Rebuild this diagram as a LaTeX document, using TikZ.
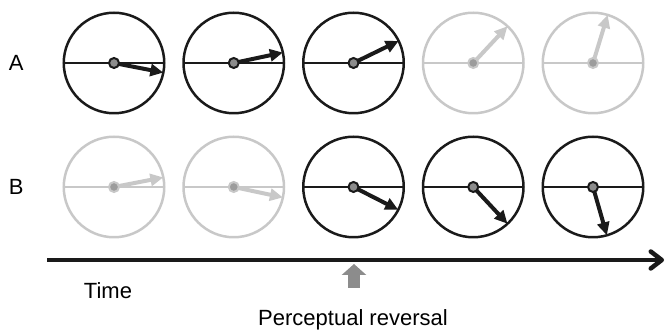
\documentclass[tikz,border=0pt]{standalone}
\usepackage{fontspec}
\setmainfont{Liberation Sans}
\usepackage{tikz}
\usetikzlibrary{positioning, arrows.meta}
\usepackage{xcolor}
\definecolor{fadegray}{HTML}{C8C8C8}
\definecolor{hubgray}{HTML}{8C8C8C}
\definecolor{hubfade}{HTML}{9C9C9C}
\definecolor{dialblack}{HTML}{1A1A1A}

\tikzset{
	dial/.style={circle, draw=dialblack, line width=2.5pt,
		minimum size=100.5pt, inner sep=0pt, outer sep=0pt},
	hub/.style={circle, draw=dialblack, line width=2pt, fill=hubgray,
		minimum size=10pt, inner sep=0pt},
	hand/.style={line width=4pt, -{Triangle[length=13pt,width=12pt]}},
	label/.style={inner sep=0pt}
}

\begin{document}
\begin{tikzpicture}[x=1pt, y=1pt, font=\fontsize{22}{26}\selectfont]
	\useasboundingbox (0,0) rectangle (667,331);
    % Add the dials
		\node[dial] (a1) at (114,268) {};
		\node[dial,
			right=19.25pt of a1
			] (a2) {};
		\node[dial,
			right=19.25pt of a2
			] (a3) {};
		\node[dial,
			right=19.25pt of a3,
			draw=fadegray
			] (a4) {};
		\node[dial,
			right=19.25pt of a4,
			draw=fadegray
			] (a5) {};
		\node[dial,
			below=23.5pt of a1,
			draw=fadegray
			] (b1) {};
		\node[dial,
			below=23.5pt of a2,
			draw=fadegray
			] (b2) {};
		\node[dial,
			below=23.5pt of a3
			] (b3) {};
		\node[dial,
			below=23.5pt of a4
			] (b4) {};
		\node[dial,
			below=23.5pt of a5
			] (b5) {};
		\node[label] (labA) [left=40pt of a1] {A};
		\node[label] (labB) [left=40pt of b1] {B};

	% horizon lines
		\draw[line width=1.5pt, dialblack]
			(a1.west) edge (a1.east)
			(a2.west) edge (a2.east)
			(a3.west) edge (a3.east)
			(a4.west) edge[fadegray] (a4.east)
			(a5.west) edge[fadegray] (a5.east)
			(b1.west) edge[fadegray] (b1.east)
			(b2.west) edge[fadegray] (b2.east)
			(b3.west) edge (b3.east)
			(b4.west) edge (b4.east)
			(b5.west) edge (b5.east)
			;

	% hands
		\draw[dialblack]
			(a1.center) edge[hand] (a1.-11)
			(a2.center) edge[hand] (a2.12)
			(a3.center) edge[hand] (a3.26)
			(a4.center) edge[hand, fadegray] (a4.47)
			(a5.center) edge[hand, fadegray] (a5.73)
			(b1.center) edge[hand, fadegray] (b1.11)
			(b2.center) edge[hand, fadegray] (b2.-12)
			(b3.center) edge[hand] (b3.-27)
			(b4.center) edge[hand] (b4.-47)
			(b5.center) edge[hand] (b5.-74)
			;

		\node[hub] (a1h) at (a1.center) {};
		\node[hub] (a2h) at (a2.center) {};
		\node[hub] (a3h) at (a3.center) {};
		\node[hub, draw=fadegray, fill=hubfade] (a4h) at (a4.center) {};
		\node[hub, draw=fadegray, fill=hubfade] (a5h) at (a5.center) {};
		\node[hub, draw=fadegray, fill=hubfade] (b1h) at (b1.center) {};
		\node[hub, draw=fadegray, fill=hubfade] (b2h) at (b2.center) {};
		\node[hub] (b3h) at (b3.center) {};
		\node[hub] (b4h) at (b4.center) {};
		\node[hub] (b5h) at (b5.center) {};

	% time axis
		\coordinate (t0) at (47,71);
		\coordinate (t1) at (664,71);
		\draw[line width=4.5pt, dialblack,
			-{Straight Barb[length=11pt, width=17pt, line cap=round, line join=round]}]
			(t0) -- (t1);
		\node[label] (time) at (108,40) {Time};

	% reversal marker
		\coordinate (revtip) at (354,67);
		\coordinate (revend) at (354,43);
		\draw[line width=12.7pt, hubgray,
			-{Triangle[length=11pt, width=24pt]}]
			(revend) -- (revtip);
		\node[label, anchor=base] (rev) at (353,5) {Perceptual reversal};
\end{tikzpicture}
\end{document}
